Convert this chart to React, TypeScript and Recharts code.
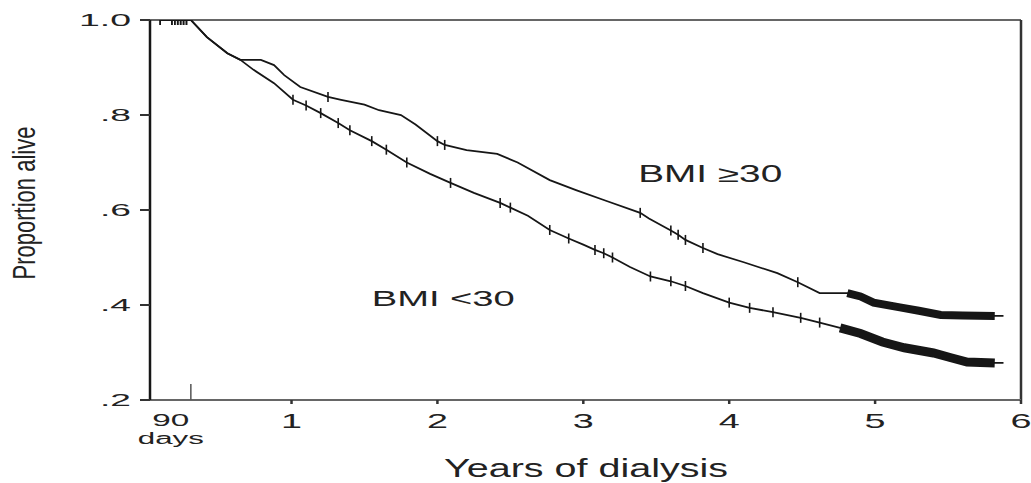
import { ComposedChart, Line, XAxis, YAxis, ReferenceLine, ReferenceDot, Label } from 'recharts';

// [years on dialysis, proportion alive, censored mark (1 = yes)]
type Pt = [number, number, number];

const bmiHigh: Pt[] = [
  [0.1, 1.0, 1], [0.18, 1.0, 1], [0.2, 1.0, 1], [0.22, 1.0, 1], [0.24, 1.0, 1], [0.26, 1.0, 1], [0.28, 1.0, 1], [0.31, 1.0, 0],
  [0.42, 0.964, 0], [0.56, 0.93, 0], [0.65, 0.916, 0], [0.79, 0.916, 0], [0.88, 0.905, 0], [0.95, 0.884, 0],
  [1.06, 0.859, 0], [1.25, 0.838, 1], [1.34, 0.832, 0], [1.5, 0.822, 0], [1.6, 0.81, 0], [1.75, 0.8, 0],
  [1.85, 0.78, 0], [2.0, 0.745, 1], [2.05, 0.737, 1], [2.2, 0.726, 0], [2.41, 0.718, 0], [2.55, 0.7, 0],
  [2.77, 0.663, 0], [2.95, 0.642, 0], [3.15, 0.62, 0], [3.39, 0.594, 1], [3.45, 0.582, 0], [3.6, 0.557, 1],
  [3.65, 0.548, 1], [3.7, 0.537, 1], [3.82, 0.52, 1], [3.92, 0.507, 0], [4.1, 0.49, 0], [4.33, 0.467, 0],
  [4.47, 0.448, 1], [4.62, 0.425, 0], [4.81, 0.425, 0], [4.9, 0.418, 0], [4.99, 0.405, 0], [5.17, 0.395, 0],
  [5.3, 0.388, 0], [5.45, 0.379, 0], [5.6, 0.378, 0], [5.82, 0.377, 0], [5.88, 0.377, 0],
];

const bmiLow: Pt[] = [
  [0.1, 1.0, 1], [0.18, 1.0, 1], [0.2, 1.0, 1], [0.22, 1.0, 1], [0.24, 1.0, 1], [0.26, 1.0, 1], [0.28, 1.0, 1], [0.31, 1.0, 0],
  [0.42, 0.964, 0], [0.56, 0.93, 0], [0.65, 0.916, 0], [0.74, 0.895, 0], [0.88, 0.867, 0], [1.01, 0.832, 1],
  [1.1, 0.82, 1], [1.2, 0.804, 1], [1.32, 0.783, 1], [1.4, 0.768, 1], [1.55, 0.745, 1], [1.65, 0.727, 1],
  [1.79, 0.7, 1], [1.95, 0.676, 0], [2.09, 0.657, 1], [2.25, 0.636, 0], [2.43, 0.615, 1], [2.5, 0.605, 1],
  [2.62, 0.588, 0], [2.77, 0.558, 1], [2.9, 0.54, 1], [3.0, 0.527, 0], [3.08, 0.516, 1], [3.14, 0.509, 1],
  [3.2, 0.5, 1], [3.32, 0.48, 0], [3.46, 0.46, 1], [3.6, 0.45, 1], [3.7, 0.44, 1], [3.82, 0.425, 0],
  [4.0, 0.405, 1], [4.14, 0.394, 1], [4.3, 0.385, 1], [4.49, 0.373, 1], [4.62, 0.363, 1], [4.76, 0.352, 0],
  [4.9, 0.34, 0], [5.05, 0.322, 0], [5.2, 0.31, 0], [5.4, 0.299, 0], [5.52, 0.289, 0], [5.63, 0.28, 0],
  [5.82, 0.278, 0], [5.88, 0.278, 0],
];

const xTicks = [0.31, 1, 2, 3, 4, 5, 6];
const yTicks = [0.2, 0.4, 0.6, 0.8, 1.0];
const yTickLabels = ['.2', '.4', '.6', '.8', '1.0'];
const seriesLabels = ['BMI \u226530', 'BMI <30'];

const INK = '#161616';
const TEXT = '#222';
const FONT = '"Liberation Sans", Arial, Helvetica, sans-serif';

const toRows = (pts: Pt[]) => pts.map(([t, s, c]) => ({ t, s, c }));
const highRows = toRows(bmiHigh);
const lowRows = toRows(bmiLow);
// heavily censored tails drawn as a thick band
const highTail = highRows.filter((r) => r.t >= 4.8 && r.t <= 5.82);
const lowTail = lowRows.filter((r) => r.t >= 4.76 && r.t <= 5.82);

// text stretched to a given width, centred on x
const Txt = ({ x, y, w, size, children }: any) => (
  <text x={x - w / 2} y={y} fontSize={size} fontFamily={FONT} fill={TEXT} textLength={w} lengthAdjust="spacingAndGlyphs">
    {children}
  </text>
);

const censorDot = (p: any) =>
  p.payload && p.payload.c ? (
    <line key={`c${p.index}`} x1={p.cx} x2={p.cx} y1={p.cy - 5} y2={p.cy + 5} stroke={INK} strokeWidth={1.6} />
  ) : (
    <g key={`c${p.index}`} />
  );

const YTick = ({ x, y, payload }: any) => {
  const i = yTicks.indexOf(payload.value);
  const lab = yTickLabels[i] ?? String(payload.value);
  const w = lab.length > 2 ? 52 : 31;
  return <Txt x={x - w / 2 + 1} y={y + 6} w={w} size={17}>{lab}</Txt>;
};

const XTick = ({ x, y, payload }: any) => {
  const v = payload.value;
  if (v < 1) {
    return (
      <g>
        <line x1={x} x2={x} y1={y - 16} y2={y} stroke="#555" strokeWidth={1.5} />
        <Txt x={x - 20} y={y + 26} w={37} size={17}>90</Txt>
        <Txt x={x - 20} y={y + 44} w={66} size={16}>days</Txt>
      </g>
    );
  }
  return (
    <g>
      <line x1={x} x2={x} y1={y} y2={y + 4} stroke="#333" strokeWidth={2.5} />
      <Txt x={x} y={y + 28} w={21} size={21}>{v}</Txt>
    </g>
  );
};

export default function App() {
  return (
    <div style={{ position: 'absolute', left: 0, top: 0, width: 1031, height: 483, background: '#fff' }}>
      <ComposedChart width={1031} height={483} margin={{ top: 20, right: 10, left: 0, bottom: 0 }}>
        <XAxis
          dataKey="t"
          type="number"
          domain={[0.03, 6]}
          ticks={xTicks}
          interval={0}
          allowDataOverflow
          height={83}
          tickLine={false}
          tickSize={0}
          tickMargin={0}
          axisLine={{ stroke: '#666', strokeWidth: 2 }}
          tick={<XTick />}
        >
          <Label
            content={() => (
              <Txt x={586} y={477} w={284} size={25}>
                Years of dialysis
              </Txt>
            )}
          />
        </XAxis>
        <YAxis
          dataKey="s"
          type="number"
          domain={[0.2, 1.0]}
          ticks={yTicks}
          interval={0}
          allowDataOverflow
          width={150}
          tickSize={10}
          tickMargin={10}
          tickLine={{ stroke: '#333', strokeWidth: 2 }}
          axisLine={{ stroke: INK, strokeWidth: 2.5 }}
          tick={<YTick />}
        >
          <Label
            content={() => (
              <text
                transform="translate(35,203) scale(1.4,1) rotate(-90)"
                textAnchor="middle"
                fontSize={22}
                fontFamily={FONT}
                fill={TEXT}
              >
                Proportion alive
              </text>
            )}
          />
        </YAxis>
        <ReferenceLine y={1} stroke="#666" strokeWidth={2} />
        <ReferenceLine x={6} stroke="#333" strokeWidth={2.5} />
        <Line data={highRows} dataKey="s" type="linear" stroke={INK} strokeWidth={1.8} dot={censorDot} activeDot={false} isAnimationActive={false} />
        <Line data={lowRows} dataKey="s" type="linear" stroke={INK} strokeWidth={1.8} dot={censorDot} activeDot={false} isAnimationActive={false} />
        <Line data={highTail} dataKey="s" type="linear" stroke={INK} strokeWidth={8} dot={false} activeDot={false} isAnimationActive={false} />
        <Line data={lowTail} dataKey="s" type="linear" stroke={INK} strokeWidth={9} dot={false} activeDot={false} isAnimationActive={false} />
        <ReferenceDot
          x={3.87}
          y={0.678}
          r={1}
          fill="none"
          stroke="none"
          label={{ content: (p: any) => <Txt x={p.viewBox.x + 1} y={p.viewBox.y + 10} w={144} size={23}>{seriesLabels[0]}</Txt> }}
        />
        <ReferenceDot
          x={2.04}
          y={0.417}
          r={1}
          fill="none"
          stroke="none"
          label={{ content: (p: any) => <Txt x={p.viewBox.x + 1} y={p.viewBox.y + 10} w={143} size={22}>{seriesLabels[1]}</Txt> }}
        />
      </ComposedChart>
    </div>
  );
}
